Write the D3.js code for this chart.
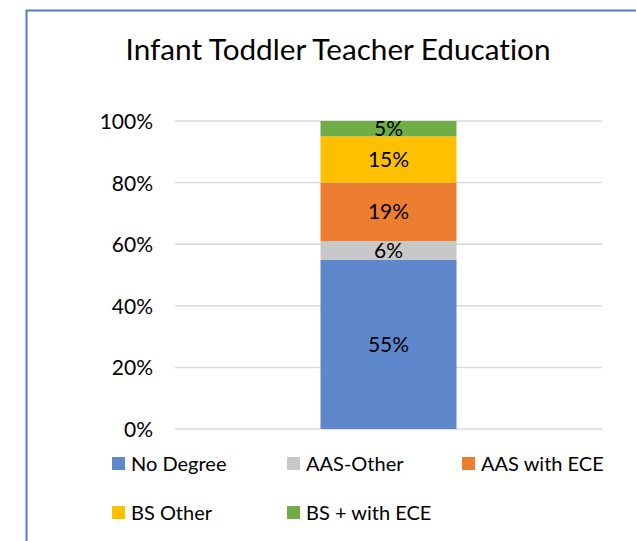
<!DOCTYPE html>
<html>
<head>
<meta charset="utf-8">
<script src="https://cdn.jsdelivr.net/npm/d3@7"></script>
<style>
  html, body { margin: 0; padding: 0; background: #fff; }
  svg { display: block; font-family: Lato, "Open Sans", sans-serif; font-variant-ligatures: none; }
</style>
</head>
<body>
<svg id="chart" width="636" height="541"></svg>
<script>
const TITLE = "Infant Toddler Teacher Education";
const categories = ["Teachers"];
const seriesNames = ["No Degree", "AAS-Other", "AAS with ECE", "BS Other", "BS + with ECE"];
const seriesValues = [0.55, 0.06, 0.19, 0.15, 0.05];
const seriesColors = ["#5f87cb", "#c8c8c8", "#ed7d31", "#ffc000", "#70ad47"];
const yTicks = [0, 0.2, 0.4, 0.6, 0.8, 1.0];

const PLOT_LEFT = 175;
const PLOT_RIGHT = 602;
const PLOT_TOP = 121;
const PLOT_BOTTOM = 429;

const svg = d3.select("#chart");

// outer frame (only top and left edges are visible in the crop)
svg.append("path")
    .attr("d", "M26.5,541 L26.5,10.5 L636,10.5")
    .attr("fill", "none")
    .attr("stroke", "#4f7fcb")
    .attr("stroke-width", 2);

svg.append("text")
    .attr("x", 338)
    .attr("y", 60)
    .attr("text-anchor", "middle")
    .attr("font-size", 29.7)
    .attr("fill", "#000")
    .text(TITLE);

const y = d3.scaleLinear().domain([0, 1]).range([PLOT_BOTTOM, PLOT_TOP]);
const x = d3.scaleBand().domain(categories).range([PLOT_LEFT, PLOT_RIGHT])
    .paddingInner(0).paddingOuter(1.07);

// gridlines
svg.append("g")
    .selectAll("line")
    .data(yTicks)
    .join("line")
    .attr("x1", PLOT_LEFT)
    .attr("x2", PLOT_RIGHT)
    .attr("y1", (d) => y(d))
    .attr("y2", (d) => y(d))
    .attr("stroke", "#d9d9d9")
    .attr("stroke-width", 1.5);

// y axis labels, no line
const yAxis = svg.append("g")
    .attr("transform", `translate(${PLOT_LEFT - 6},0)`)
    .call(d3.axisLeft(y).tickValues(yTicks).tickFormat(d3.format(".0%")).tickSize(0).tickPadding(16));
yAxis.select(".domain").remove();
yAxis.selectAll("text")
    .attr("font-family", "Lato, sans-serif")
    .attr("font-size", 21)
    .attr("fill", "#000")
    .attr("dy", "0.36em");

// stacked bar
const row = { cat: categories[0] };
seriesNames.forEach((name, i) => { row[name] = seriesValues[i]; });
const stacked = d3.stack().keys(seriesNames)([row]);

const layers = svg.append("g")
    .selectAll("g")
    .data(stacked)
    .join("g")
    .attr("fill", (d, i) => seriesColors[i]);

layers.selectAll("rect")
    .data((d) => d)
    .join("rect")
    .attr("x", (d) => x(d.data.cat))
    .attr("width", x.bandwidth())
    .attr("y", (d) => y(d[1]))
    .attr("height", (d) => y(d[0]) - y(d[1]));

svg.append("g")
    .selectAll("text")
    .data(stacked)
    .join("text")
    .attr("x", (d) => x(d[0].data.cat) + x.bandwidth() / 2)
    .attr("y", (d) => (y(d[0][0]) + y(d[0][1])) / 2)
    .attr("dy", "0.36em")
    .attr("text-anchor", "middle")
    .attr("font-size", 21)
    .attr("fill", "#000")
    .text((d) => d3.format(".0%")(d[0][1] - d[0][0]));

// legend
const legendX = [112, 287, 462];
const legendY = [457, 506];
const legend = svg.append("g")
    .selectAll("g")
    .data(seriesNames)
    .join("g")
    .attr("transform", (d, i) => `translate(${legendX[i % 3]},${legendY[Math.floor(i / 3)]})`);
legend.append("rect")
    .attr("width", 13)
    .attr("height", 13)
    .attr("fill", (d, i) => seriesColors[i]);
legend.append("text")
    .attr("x", 19)
    .attr("y", 14)
    .attr("font-size", 20)
    .attr("fill", "#000")
    .text((d) => d);
</script>
</body>
</html>
